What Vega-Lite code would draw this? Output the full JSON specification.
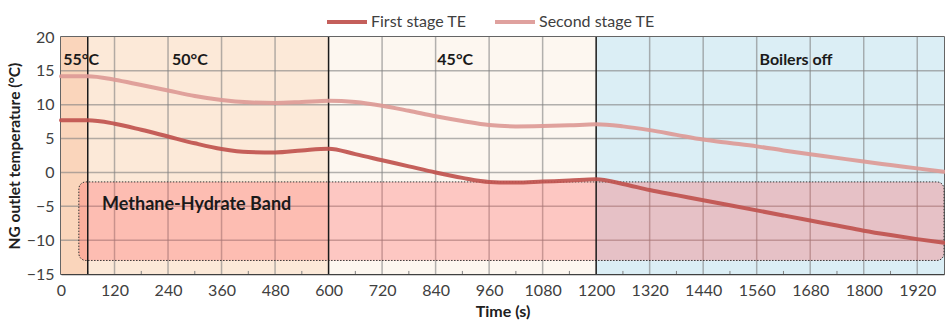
{
  "$schema": "https://vega.github.io/schema/vega-lite/v6.json",
  "width": 883,
  "height": 237,
  "autosize": "none",
  "padding": {"left": 61, "top": 37, "right": 1, "bottom": 54},
  "config": {"font": "Lato", "view": {"stroke": "#333333", "strokeWidth": 1.5}},
  "datasets": {
    "regions": [
      {"name": "55", "t0": 0, "t1": 60},
      {"name": "50", "t0": 60, "t1": 600},
      {"name": "45", "t0": 600, "t1": 1200},
      {"name": "off", "t0": 1200, "t1": 1980}
    ],
    "band": [{"name": "band", "t0": 40, "t1": 1980, "lo": -13.0, "hi": -1.4}],
    "gridx": [{"t": 120},{"t": 240},{"t": 360},{"t": 480},{"t": 720},{"t": 840},{"t": 960},{"t": 1080},{"t": 1320},{"t": 1440},{"t": 1560},{"t": 1680},{"t": 1800},{"t": 1920}],
    "gridy": [{"v": -10},{"v": -5},{"v": 0},{"v": 5},{"v": 10},{"v": 15}],
    "minor": [{"t": 60},{"t": 180},{"t": 300},{"t": 420},{"t": 540},{"t": 660},{"t": 780},{"t": 900},{"t": 1020},{"t": 1140},{"t": 1260},{"t": 1380},{"t": 1500},{"t": 1620},{"t": 1740},{"t": 1860}],
    "bounds": [{"t": 60},{"t": 600},{"t": 1200}],
    "series": [
      {"t": 0, "s": "First stage TE", "T": 7.7},
      {"t": 60, "s": "First stage TE", "T": 7.7},
      {"t": 120, "s": "First stage TE", "T": 7.2},
      {"t": 180, "s": "First stage TE", "T": 6.3},
      {"t": 240, "s": "First stage TE", "T": 5.3},
      {"t": 300, "s": "First stage TE", "T": 4.3},
      {"t": 360, "s": "First stage TE", "T": 3.45},
      {"t": 420, "s": "First stage TE", "T": 3.0},
      {"t": 480, "s": "First stage TE", "T": 2.95},
      {"t": 540, "s": "First stage TE", "T": 3.25},
      {"t": 600, "s": "First stage TE", "T": 3.5},
      {"t": 660, "s": "First stage TE", "T": 2.7},
      {"t": 720, "s": "First stage TE", "T": 1.8},
      {"t": 780, "s": "First stage TE", "T": 0.9},
      {"t": 840, "s": "First stage TE", "T": 0.0},
      {"t": 900, "s": "First stage TE", "T": -0.8},
      {"t": 960, "s": "First stage TE", "T": -1.4},
      {"t": 1020, "s": "First stage TE", "T": -1.5},
      {"t": 1080, "s": "First stage TE", "T": -1.35},
      {"t": 1140, "s": "First stage TE", "T": -1.2},
      {"t": 1200, "s": "First stage TE", "T": -1.0},
      {"t": 1260, "s": "First stage TE", "T": -1.7},
      {"t": 1320, "s": "First stage TE", "T": -2.6},
      {"t": 1380, "s": "First stage TE", "T": -3.35},
      {"t": 1440, "s": "First stage TE", "T": -4.1},
      {"t": 1500, "s": "First stage TE", "T": -4.85},
      {"t": 1560, "s": "First stage TE", "T": -5.6},
      {"t": 1620, "s": "First stage TE", "T": -6.35},
      {"t": 1680, "s": "First stage TE", "T": -7.1},
      {"t": 1740, "s": "First stage TE", "T": -7.85},
      {"t": 1800, "s": "First stage TE", "T": -8.6},
      {"t": 1860, "s": "First stage TE", "T": -9.25},
      {"t": 1920, "s": "First stage TE", "T": -9.85},
      {"t": 1980, "s": "First stage TE", "T": -10.4},
      {"t": 0, "s": "Second stage TE", "T": 14.2},
      {"t": 60, "s": "Second stage TE", "T": 14.2},
      {"t": 120, "s": "Second stage TE", "T": 13.7},
      {"t": 180, "s": "Second stage TE", "T": 12.9},
      {"t": 240, "s": "Second stage TE", "T": 12.1},
      {"t": 300, "s": "Second stage TE", "T": 11.3},
      {"t": 360, "s": "Second stage TE", "T": 10.7},
      {"t": 420, "s": "Second stage TE", "T": 10.35},
      {"t": 480, "s": "Second stage TE", "T": 10.25},
      {"t": 540, "s": "Second stage TE", "T": 10.4},
      {"t": 600, "s": "Second stage TE", "T": 10.6},
      {"t": 660, "s": "Second stage TE", "T": 10.4},
      {"t": 720, "s": "Second stage TE", "T": 9.85},
      {"t": 780, "s": "Second stage TE", "T": 9.1},
      {"t": 840, "s": "Second stage TE", "T": 8.3},
      {"t": 900, "s": "Second stage TE", "T": 7.6},
      {"t": 960, "s": "Second stage TE", "T": 7.0},
      {"t": 1020, "s": "Second stage TE", "T": 6.8},
      {"t": 1080, "s": "Second stage TE", "T": 6.85},
      {"t": 1140, "s": "Second stage TE", "T": 6.95},
      {"t": 1200, "s": "Second stage TE", "T": 7.1},
      {"t": 1260, "s": "Second stage TE", "T": 6.8},
      {"t": 1320, "s": "Second stage TE", "T": 6.25},
      {"t": 1380, "s": "Second stage TE", "T": 5.55},
      {"t": 1440, "s": "Second stage TE", "T": 4.85},
      {"t": 1500, "s": "Second stage TE", "T": 4.35},
      {"t": 1560, "s": "Second stage TE", "T": 3.85},
      {"t": 1620, "s": "Second stage TE", "T": 3.25},
      {"t": 1680, "s": "Second stage TE", "T": 2.7},
      {"t": 1740, "s": "Second stage TE", "T": 2.15},
      {"t": 1800, "s": "Second stage TE", "T": 1.6},
      {"t": 1860, "s": "Second stage TE", "T": 1.1},
      {"t": 1920, "s": "Second stage TE", "T": 0.6},
      {"t": 1980, "s": "Second stage TE", "T": 0.1}
    ],
    "labels": [
      {"t": 5, "v": 16.6, "text": "55°C", "kind": "left"},
      {"t": 289, "v": 16.6, "text": "50°C", "kind": "center"},
      {"t": 884, "v": 16.6, "text": "45°C", "kind": "center"},
      {"t": 1648, "v": 16.6, "text": "Boilers off", "kind": "center"}
    ],
    "bandlabel": [{"t": 92, "v": -4.85, "text": "Methane-Hydrate Band"}]
  },
  "encoding": {
    "x": {"type": "quantitative", "scale": {"domain": [0, 1980], "nice": false, "zero": false},
      "axis": {"values": [0,120,240,360,480,600,720,840,960,1080,1200,1320,1440,1560,1680,1800,1920], "format": "d", "grid": false, "ticks": false, "labelFontSize": 16, "labelColor": "#404040", "labelPadding": 8, "domainColor": "#404040", "domainWidth": 1.5, "title": "Time (s)", "titleFontSize": 16, "titleFontWeight": "bold", "titleColor": "#202020", "titlePadding": 5, "labelFlush": false}},
    "y": {"type": "quantitative", "scale": {"domain": [-15, 20], "nice": false, "zero": false},
      "axis": {"values": [-15,-10,-5,0,5,10,15,20], "grid": false, "ticks": false, "labelFontSize": 16, "labelColor": "#404040", "labelPadding": 7, "domainColor": "#404040", "title": "NG outlet temperature (°C)", "titleFontSize": 15.5, "titleFontWeight": "bold", "titleColor": "#202020", "titlePadding": 4, "labelFlush": false}}
  },
  "layer": [
    {
      "data": {"name": "regions"},
      "mark": {"type": "rect"},
      "encoding": {
        "x": {"field": "t0"},
        "x2": {"field": "t1"},
        "y": {"datum": -15},
        "y2": {"datum": 20},
        "fill": {"field": "name", "type": "nominal", "legend": null,
          "scale": {"domain": ["55", "50", "45", "off", "band"], "range": ["#fad5bb", "#fce9d8", "#fdf7f0", "#dbeef5", "#ff5a5a"]}}
      }
    },
    {
      "data": {"name": "gridx"},
      "mark": {"type": "rule", "color": "#808080", "opacity": 0.6, "strokeWidth": 1.5},
      "encoding": {"x": {"field": "t"}}
    },
    {
      "data": {"name": "gridy"},
      "mark": {"type": "rule", "color": "#808080", "opacity": 0.6, "strokeWidth": 1.5},
      "encoding": {"y": {"field": "v"}}
    },
    {
      "data": {"name": "minor"},
      "mark": {"type": "rule", "color": "#808080", "strokeWidth": 1},
      "encoding": {"x": {"field": "t"}, "y": {"datum": -15}, "y2": {"datum": -14.55}}
    },
    {
      "data": {"name": "band"},
      "mark": {"type": "rect", "opacity": 0.3, "cornerRadius": 7},
      "encoding": {
        "x": {"field": "t0"}, "x2": {"field": "t1"},
        "y": {"field": "lo"}, "y2": {"field": "hi"},
        "fill": {"field": "name", "type": "nominal", "legend": null}
      }
    },
    {
      "data": {"name": "band"},
      "mark": {"type": "rect", "fillOpacity": 0, "stroke": "#333333", "strokeWidth": 1, "strokeDash": [1.5, 1.5], "cornerRadius": 7},
      "encoding": {
        "x": {"field": "t0"}, "x2": {"field": "t1"},
        "y": {"field": "lo"}, "y2": {"field": "hi"}
      }
    },
    {
      "data": {"name": "bounds"},
      "mark": {"type": "rule", "color": "#1a1a1a", "strokeWidth": 1.5},
      "encoding": {"x": {"field": "t"}}
    },
    {
      "data": {"name": "series"},
      "mark": {"type": "line", "interpolate": "monotone", "strokeWidth": 4, "strokeCap": "round"},
      "encoding": {
        "x": {"field": "t"},
        "y": {"field": "T"},
        "stroke": {"field": "s", "type": "nominal",
          "scale": {"domain": ["First stage TE", "Second stage TE"], "range": ["#c0524e", "#dd9a96"]},
          "legend": {"title": null, "orient": "none", "legendX": 264, "legendY": -37, "direction": "horizontal",
            "labelFontSize": 16, "labelColor": "#404040", "symbolType": "stroke", "symbolStrokeWidth": 4, "symbolSize": 1600, "columnPadding": 20, "labelOffset": 2}},
        "opacity": {"value": 0.92}
      }
    },
    {
      "data": {"name": "labels"},
      "transform": [{"filter": "datum.kind == 'center'"}],
      "mark": {"type": "text", "fontWeight": "bold", "fontSize": 16, "color": "#1a1a1a", "align": "center", "baseline": "middle"},
      "encoding": {"x": {"field": "t"}, "y": {"field": "v"}, "text": {"field": "text"}}
    },
    {
      "data": {"name": "labels"},
      "transform": [{"filter": "datum.kind == 'left'"}],
      "mark": {"type": "text", "fontWeight": "bold", "fontSize": 16, "color": "#1a1a1a", "align": "left", "baseline": "middle"},
      "encoding": {"x": {"field": "t"}, "y": {"field": "v"}, "text": {"field": "text"}}
    },
    {
      "data": {"name": "bandlabel"},
      "mark": {"type": "text", "fontWeight": "bold", "fontSize": 18, "color": "#1a1a1a", "align": "left", "baseline": "middle"},
      "encoding": {"x": {"field": "t"}, "y": {"field": "v"}, "text": {"field": "text"}}
    }
  ]
}
